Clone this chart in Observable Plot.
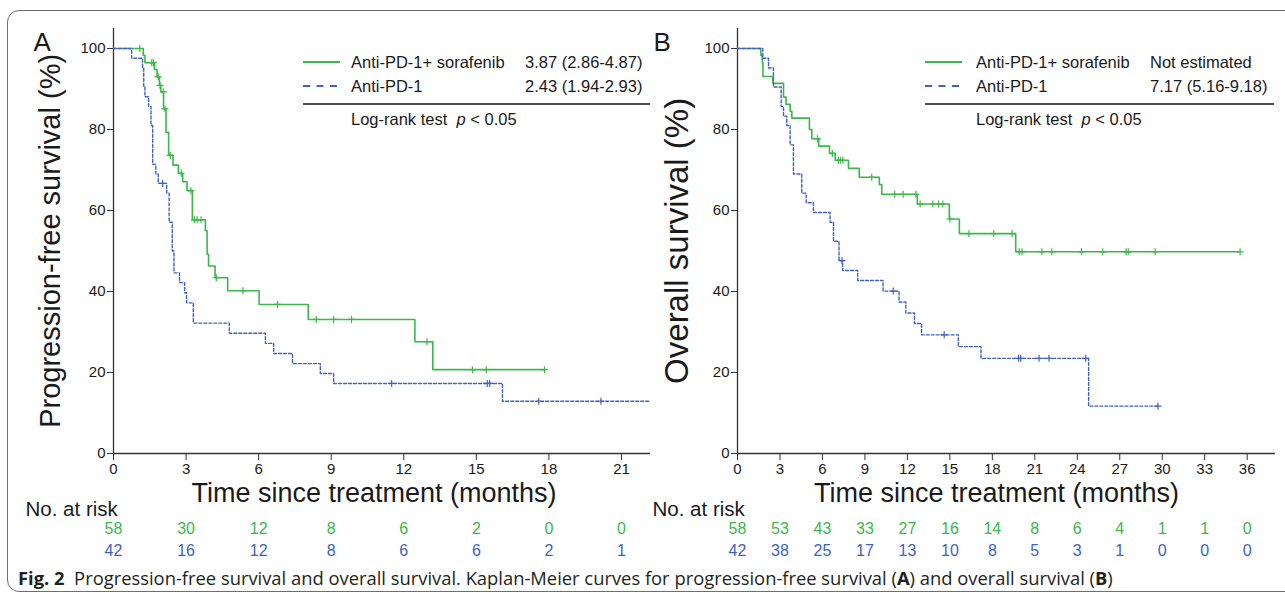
<!DOCTYPE html>
<html>
<head>
<meta charset="utf-8">
<script src="https://cdn.jsdelivr.net/npm/d3@7"></script>
<script src="https://cdn.jsdelivr.net/npm/@observablehq/plot@0.6"></script>
<style>
html, body { margin: 0; padding: 0; background: #fff; }
#wrap { position: relative; width: 1285px; height: 597px; overflow: hidden; font-family: "Liberation Sans", Arial, sans-serif; }
#frame { position: absolute; left: 7px; top: 10px; width: 1320px; height: 582px; border: 1.5px solid #6e6e6e; border-radius: 12px; box-sizing: border-box; }
.panel { position: absolute; top: 0; }
#panelA { left: 0; width: 660px; }
#panelB { left: 640px; width: 645px; }
#overlay { position: absolute; left: 0; top: 0; pointer-events: none; }
#caption { position: absolute; left: 18px; top: 565px; font-family: "Open Sans", "Noto Sans", sans-serif; font-size: 15px; white-space: nowrap; color: #231f20; }
</style>
</head>
<body>
<div id="wrap">
  <div id="frame"></div>
  <div id="panelA" class="panel"></div>
  <div id="panelB" class="panel"></div>
  <svg id="overlay" width="1285" height="597"></svg>
  <div id="caption"><b>Fig. 2</b>&nbsp; Progression-free survival and overall survival. Kaplan-Meier curves for progression-free survival (<b>A</b>) and overall survival (<b>B</b>)</div>
</div>
<script>
// ---------- Data ----------
const groups = ["Anti-PD-1+ sorafenib", "Anti-PD-1"];

// Panel A: progression-free survival
const pfsComboTime = [0, 1.23, 1.3, 1.69, 1.8, 1.9, 1.96, 2.07, 2.17, 2.28, 2.46, 2.68, 2.86, 3.04, 3.26, 3.8, 3.87, 3.93, 4.2, 4.72, 6.02, 8.05, 12.46, 13.2, 17.85];
const pfsComboSurv = [100, 98.3, 96.5, 94.8, 93.0, 90.9, 89.3, 85.1, 79.3, 73.6, 71.2, 69.2, 67.1, 64.9, 57.7, 55.0, 49.2, 46.3, 43.4, 40.2, 36.8, 33.1, 27.6, 20.7, 20.7];
const pfsComboCensor = [1.09, 1.58, 1.65, 1.85, 1.92, 2.06, 2.13, 2.35, 2.8, 3.2, 3.35, 3.46, 3.62, 4.25, 5.35, 6.78, 8.38, 9.1, 9.84, 12.96, 14.84, 15.41, 17.82];

const pfsMonoTime = [0, 0.75, 1.2, 1.25, 1.3, 1.45, 1.55, 1.62, 1.75, 1.85, 2.2, 2.3, 2.43, 2.5, 2.73, 2.94, 3.02, 3.3, 4.79, 6.28, 6.62, 7.4, 8.55, 9.1, 16.08, 22.2];
const pfsMonoSurv = [100, 97.6, 95.2, 90.5, 88.1, 85.7, 81.0, 71.4, 69.0, 66.7, 64.3, 57.1, 50.0, 44.6, 42.2, 39.7, 37.2, 32.2, 29.7, 27.2, 24.7, 22.2, 19.75, 17.3, 12.9, 12.9];
const pfsMonoCensor = [2.03, 11.5, 15.45, 15.55, 17.58, 20.15];

// Panel B: overall survival
const osComboTime = [0, 1.65, 1.75, 1.8, 2.5, 3.25, 3.43, 3.72, 3.84, 5.08, 5.25, 5.74, 6.5, 6.9, 7.84, 8.6, 10.02, 10.19, 12.7, 14.96, 15.67, 19.65, 35.5];
const osComboSurv = [100, 98.3, 96.6, 93.1, 91.4, 88.0, 86.2, 84.5, 82.8, 80.0, 77.7, 75.9, 74.1, 72.4, 70.4, 68.2, 66.4, 64.0, 61.6, 57.9, 54.3, 49.8, 49.8];
const osComboCensor = [5.65, 6.7, 7.13, 7.29, 7.44, 9.48, 11.1, 11.7, 12.6, 12.9, 13.8, 14.2, 14.5, 15.0, 16.35, 18.1, 19.4, 19.9, 20.1, 21.5, 22.2, 24.3, 25.8, 27.45, 27.6, 29.5, 35.5];

const osMonoTime = [0, 1.79, 2.19, 2.54, 3.08, 3.25, 3.48, 3.72, 3.95, 4.54, 4.85, 5.36, 6.54, 6.78, 7.17, 7.43, 8.49, 10.28, 11.41, 11.89, 12.5, 13.0, 15.6, 17.2, 24.8, 29.7];
const osMonoSurv = [100, 97.6, 95.2, 90.5, 85.7, 83.3, 81.0, 76.2, 69.0, 64.3, 61.9, 59.5, 57.1, 52.4, 47.6, 45.2, 42.7, 40.1, 37.4, 34.7, 32.1, 29.3, 26.4, 23.5, 11.7, 11.7];
const osMonoCensor = [7.38, 11.0, 14.6, 19.85, 20.0, 21.3, 22.0, 24.6, 29.7];

// Axes ticks
const yTicks = [0, 20, 40, 60, 80, 100];
const xTicksA = [0, 3, 6, 9, 12, 15, 18, 21];
const xTicksB = [0, 3, 6, 9, 12, 15, 18, 21, 24, 27, 30, 33, 36];

// Numbers at risk
const riskComboA = [58, 30, 12, 8, 6, 2, 0, 0];
const riskMonoA = [42, 16, 12, 8, 6, 6, 2, 1];
const riskComboB = [58, 53, 43, 33, 27, 16, 14, 8, 6, 4, 1, 1, 0];
const riskMonoB = [42, 38, 25, 17, 13, 10, 8, 5, 3, 1, 0, 0, 0];

// Legend text
const legendA = ["3.87 (2.86-4.87)", "2.43 (1.94-2.93)"];
const legendB = ["Not estimated", "7.17 (5.16-9.18)"];

// ---------- Helpers ----------
const green = "#3cb84a";
const blue = "#4262c2";
const ink = "#1a1a1a";
const axisInk = "#333";

const steps = (T, S) => T.map((t, i) => ({t, s: S[i]}));
const censors = (C, T, S) => C.map(c => {
  const i = Math.max(0, d3.bisectRight(T, c) - 1);
  return {t: c, s: S[i]};
});
const risk = (ticks, a, b) => ticks.map((t, i) => ({t, a: a[i], b: b[i]}));

function panel(o) {
  return Plot.plot({
    width: o.width,
    height: 560,
    marginLeft: o.marginLeft,
    marginRight: 10,
    marginTop: 27.75,
    marginBottom: 107,
    x: {domain: [0, o.xMax]},
    y: {domain: [0, 105]},
    style: {fontFamily: "'Liberation Sans', Arial, sans-serif", fontSize: "15px", background: "transparent", overflow: "visible", color: axisInk},
    marks: [
      Plot.axisY(yTicks, {tickSize: 6, tickPadding: 2, label: null, fill: ink, fontSize: 15}),
      Plot.axisX(o.xTicks, {tickSize: 7, tickPadding: 3, label: null, fill: ink, fontSize: 15}),
      Plot.ruleX([0], {stroke: axisInk, strokeWidth: 1.3}),
      Plot.ruleY([0], {stroke: axisInk, strokeWidth: 1.3}),
      Plot.line(o.combo, {x: "t", y: "s", curve: "step-after", stroke: green, strokeWidth: 1.6}),
      Plot.line(o.mono, {x: "t", y: "s", curve: "step-after", stroke: blue, strokeWidth: 1.4, strokeDasharray: "3,2"}),
      Plot.dot(o.comboCensor, {x: "t", y: "s", symbol: "plus", r: 2.4, stroke: green, strokeWidth: 1.2}),
      Plot.dot(o.monoCensor, {x: "t", y: "s", symbol: "plus", r: 2.4, stroke: blue, strokeWidth: 1.2}),
      Plot.text(o.risk, {x: "t", text: "a", frameAnchor: "bottom", lineAnchor: "middle", dy: 75, fill: green, fontSize: 16}),
      Plot.text(o.risk, {x: "t", text: "b", frameAnchor: "bottom", lineAnchor: "middle", dy: 97, fill: blue, fontSize: 16}),
      Plot.text(["Time since treatment (months)"], {text: d => d, frameAnchor: "bottom", lineAnchor: "middle", textAnchor: "middle", dx: o.xTitleDx, dy: 40, fontSize: 27, fill: ink}),
      Plot.text(["No. at risk"], {text: d => d, frameAnchor: "bottom-left", lineAnchor: "middle", textAnchor: "start", dx: o.noRiskDx, dy: 56, fontSize: 20.5, fill: ink}),
      Plot.text([o.letter], {text: d => d, frameAnchor: "top-left", lineAnchor: "middle", textAnchor: "start", dx: o.letterDx, dy: 14.5, fontSize: 26, fill: ink}),
      Plot.text([o.yLabel], {text: d => d, frameAnchor: "left", lineAnchor: "middle", textAnchor: "middle", rotate: -90, dx: o.yLabelDx, fontSize: o.yLabelSize, fill: ink})
    ]
  });
}

const plotA = panel({
  width: 660, marginLeft: 113, xMax: 22.2, xTicks: xTicksA,
  combo: steps(pfsComboTime, pfsComboSurv),
  mono: steps(pfsMonoTime, pfsMonoSurv),
  comboCensor: censors(pfsComboCensor, pfsComboTime, pfsComboSurv),
  monoCensor: censors(pfsMonoCensor, pfsMonoTime, pfsMonoSurv),
  risk: risk(xTicksA, riskComboA, riskMonoA),
  letter: "A", letterDx: -80, noRiskDx: -88, xTitleDx: -8,
  yLabel: "Progression-free survival (%)", yLabelSize: 29, yLabelDx: -63
});
document.getElementById("panelA").appendChild(plotA);

const plotB = panel({
  width: 645, marginLeft: 97, xMax: 38, xTicks: xTicksB,
  combo: steps(osComboTime, osComboSurv),
  mono: steps(osMonoTime, osMonoSurv),
  comboCensor: censors(osComboCensor, osComboTime, osComboSurv),
  monoCensor: censors(osMonoCensor, osMonoTime, osMonoSurv),
  risk: risk(xTicksB, riskComboB, riskMonoB),
  letter: "B", letterDx: -84, noRiskDx: -85, xTitleDx: -10,
  yLabel: "Overall survival (%)", yLabelSize: 33, yLabelDx: -60
});
document.getElementById("panelB").appendChild(plotB);

// ---------- Legends (overlay) ----------
const overlay = d3.select("#overlay");
function legend(x0, textX, valueX, ruleEnd, values) {
  const g = overlay.append("g").attr("font-family", "'Liberation Sans', Arial, sans-serif").attr("font-size", 16.5).attr("fill", ink);
  const rows = [62, 86];
  g.append("line").attr("x1", x0).attr("x2", x0 + 37).attr("y1", rows[0]).attr("y2", rows[0]).attr("stroke", green).attr("stroke-width", 2);
  g.append("line").attr("x1", x0).attr("x2", x0 + 37).attr("y1", rows[1]).attr("y2", rows[1]).attr("stroke", blue).attr("stroke-width", 2).attr("stroke-dasharray", "7,6.5");
  groups.forEach((name, i) => {
    g.append("text").attr("x", textX).attr("y", rows[i]).attr("dy", "0.36em").text(name);
    g.append("text").attr("x", valueX).attr("y", rows[i]).attr("dy", "0.36em").text(values[i]);
  });
  g.append("line").attr("x1", x0).attr("x2", ruleEnd).attr("y1", 104).attr("y2", 104).attr("stroke", "#111").attr("stroke-width", 1.3);
  const t = g.append("text").attr("x", textX).attr("y", 119).attr("dy", "0.36em").style("white-space", "pre");
  t.append("tspan").text("Log-rank test  ");
  t.append("tspan").attr("font-style", "italic").text("p");
  t.append("tspan").text(" < 0.05");
}
legend(303, 351, 525, 650, legendA);
legend(925, 976, 1150, 1274, legendB);

// ---------- Caption fit ----------
const cap = document.getElementById("caption");
const w = cap.getBoundingClientRect().width;
cap.style.fontSize = (15 * 1095 / w) + "px";
</script>
</body>
</html>
